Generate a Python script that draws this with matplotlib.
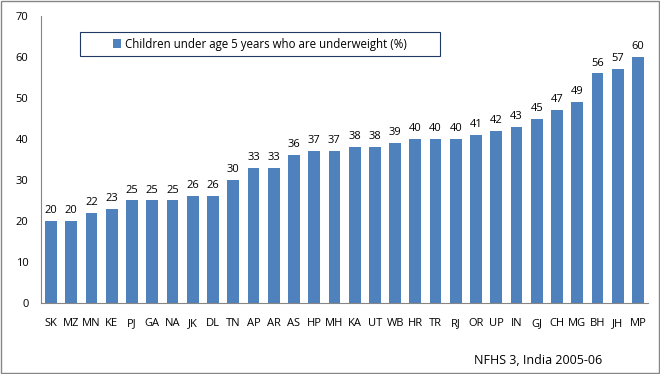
#! /usr/bin/env python
#-*- coding:utf-8 -*-

import numpy as np
from matplotlib import pyplot as plt
from matplotlib.patches import Rectangle

plt.rcParams.update({
  "font.family": ['Open Sans', 'DejaVu Sans'],
  "font.size": 8,
})

states = ['SK', 'MZ', 'MN', 'KE', 'PJ', 'GA', 'NA', 'JK', 'DL', 'TN',
          'AP', 'AR', 'AS', 'HP', 'MH', 'KA', 'UT', 'WB', 'HR', 'TR',
          'RJ', 'OR', 'UP', 'IN', 'GJ', 'CH', 'MG', 'BH', 'JH', 'MP']
underweight = [20, 20, 22, 23, 25, 25, 25, 26, 26, 30,
               33, 33, 36, 37, 37, 38, 38, 39, 40, 40,
               40, 41, 42, 43, 45, 47, 49, 56, 57, 60]
series_name = 'Children under age 5 years who are underweight (%)'
source = 'NFHS 3, India 2005-06'

fig = plt.figure(figsize=(6.6, 3.74), dpi=100)
ax = fig.add_axes([0.062, 0.19, 0.92, 0.767])

x = np.arange(len(states))
ax.bar(x, underweight, width=0.58, color='#4F81BD', label=series_name)

for xi, v in zip(x, underweight):
    ax.text(xi, v + 1.2, str(v), ha='center', va='bottom', fontsize=8)

ax.set_xlim(-0.5, len(states) - 0.5)
ax.set_ylim(0, 70)
ax.set_yticks(np.arange(0, 71, 10))
ax.set_xticks(x)
ax.set_xticklabels(states)
ax.tick_params(length=0, labelsize=8)
ax.tick_params(axis='x', pad=11)
ax.tick_params(axis='y', pad=9)

for s in ['top', 'right']:
    ax.spines[s].set_visible(False)
for s in ['left', 'bottom']:
    ax.spines[s].set_color('#868686')
    ax.spines[s].set_linewidth(0.8)

# legend box drawn separately, entry centred inside it
box = (0.064, 0.861, 0.593, 0.083)
ax.add_patch(Rectangle(box[:2], box[2], box[3], transform=ax.transAxes,
                       fill=False, edgecolor='#1F3864', linewidth=0.8,
                       clip_on=False, zorder=5))
leg = ax.legend(loc='center', bbox_to_anchor=(box[0] + box[2] / 2, box[1] + box[3] / 2),
                frameon=False, handlelength=0.7, handleheight=0.7,
                handletextpad=0.3, borderpad=0, fontsize=8.3)

fig.text(0.815, 0.037, source, ha='center', va='center', fontsize=9)

fig.add_artist(Rectangle((0.001, 0.002), 0.997, 0.995, transform=fig.transFigure,
                         fill=False, edgecolor='#868686', linewidth=1))

fig.savefig('out.png', dpi=100)
